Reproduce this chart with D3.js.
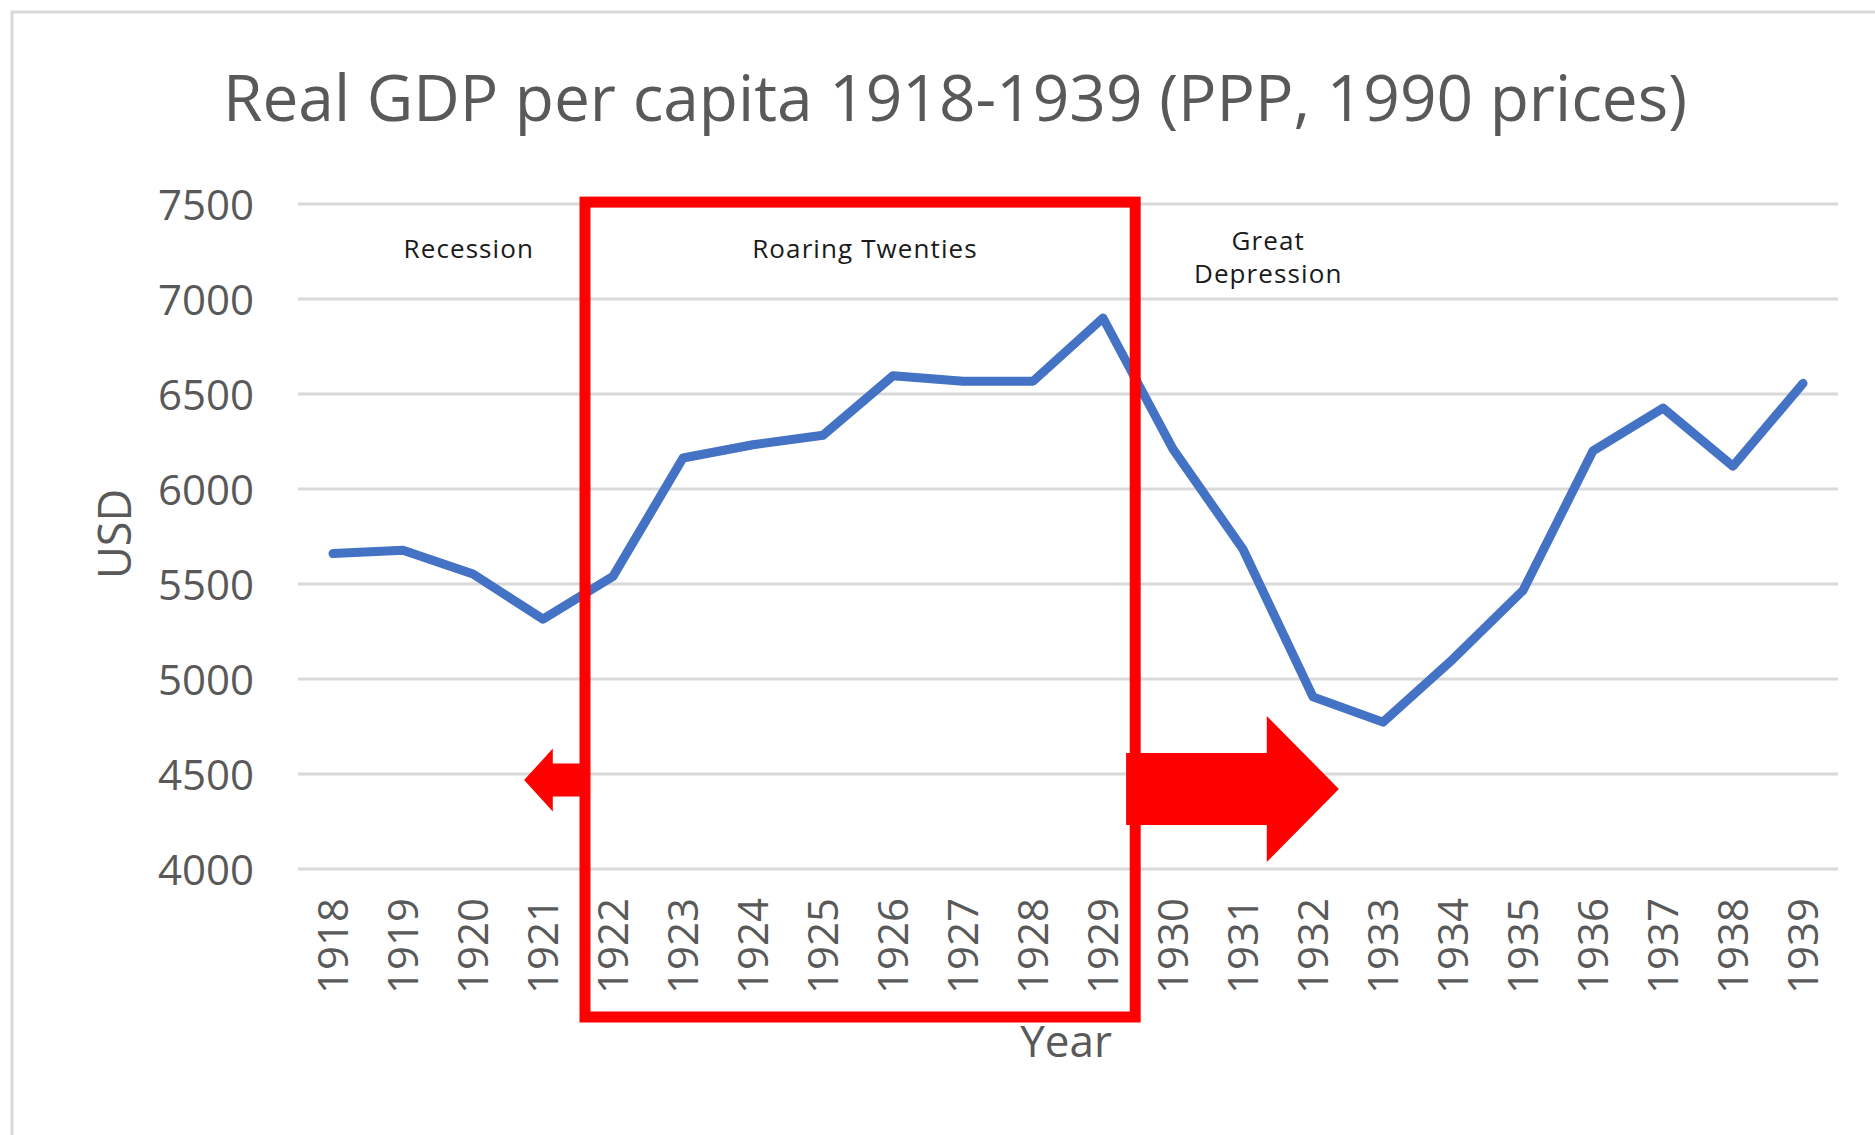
<!DOCTYPE html>
<html>
<head>
<meta charset="utf-8">
<script src="https://cdn.jsdelivr.net/npm/d3@7"></script>
<style>
  html, body { margin: 0; padding: 0; background: #ffffff; }
  svg { display: block; }
  text { font-family: "Open Sans", "Noto Sans", sans-serif; }
</style>
</head>
<body>
<svg id="chart" width="1875" height="1135"></svg>
<script>
// ---- data ----
const years = ["1918","1919","1920","1921","1922","1923","1924","1925","1926","1927","1928",
               "1929","1930","1931","1932","1933","1934","1935","1936","1937","1938","1939"];
const gdpPerCapita = [5660, 5678, 5553, 5315, 5540, 6163, 6233, 6283, 6596, 6567, 6567,
                      6900, 6210, 5683, 4906, 4773, 5105, 5466, 6201, 6426, 6120, 6556];
const yTicks = [4000, 4500, 5000, 5500, 6000, 6500, 7000, 7500];
const titleText = "Real GDP per capita 1918-1939 (PPP, 1990 prices)";
const xTitle = "Year";
const yTitle = "USD";
const periodLabels = [
  { lines: ["Recession"], year: 1919.94 },
  { lines: ["Roaring Twenties"], year: 1925.6 },
  { lines: ["Great", "Depression"], year: 1931.36 }
];

// ---- layout ----
const W = 1875, H = 1135;
const plot = { left: 298, right: 1838, top: 204, bottom: 869 };
const svg = d3.select("#chart");

svg.append("rect").attr("x", 0).attr("y", 0).attr("width", W).attr("height", H).attr("fill", "#fff");
// outer chart frame
svg.append("rect").attr("x", 12).attr("y", 12).attr("width", W).attr("height", H)
  .attr("fill", "none").attr("stroke", "#d9d9d9").attr("stroke-width", 3);

const x = d3.scaleBand().domain(years).range([plot.left, plot.right]).padding(0);
const bw = x.bandwidth();
const xc = d => x(d) + bw / 2;
// continuous helper for annotations placed between categories
const xYear = yr => x(years[0]) + bw / 2 + (yr - +years[0]) * bw;
const y = d3.scaleLinear().domain([4000, 7500]).range([plot.bottom, plot.top]);

// gridlines
svg.append("g").selectAll("line").data(yTicks).join("line")
  .attr("x1", plot.left).attr("x2", plot.right)
  .attr("y1", d => y(d)).attr("y2", d => y(d))
  .attr("stroke", "#d9d9d9").attr("stroke-width", 3);

// y axis via d3.axisLeft (no domain, no ticks)
const yAxis = svg.append("g").attr("transform", `translate(${plot.left - 44},0)`)
  .call(d3.axisLeft(y).tickValues(yTicks).tickSize(0).tickPadding(0).tickFormat(d3.format("d")));
yAxis.select(".domain").remove();
yAxis.selectAll("text").attr("fill", "#595959").style("font-size", "42px")
  .style("font-family", "'Open Sans', sans-serif").attr("dy", "0.36em");

// x axis labels (rotated)
const xAxis = svg.append("g").attr("transform", `translate(0,${plot.bottom})`)
  .call(d3.axisBottom(x).tickSize(0).tickPadding(0));
xAxis.select(".domain").remove();
xAxis.selectAll("text")
  .attr("fill", "#595959").style("font-size", "42px")
  .style("font-family", "'Open Sans', sans-serif")
  .attr("text-anchor", "end")
  .attr("y", 0).attr("dy", "0.36em")
  .attr("transform", "translate(0,29) rotate(-90)");

// data line
svg.append("path")
  .datum(years.map((yr, i) => [yr, gdpPerCapita[i]]))
  .attr("fill", "none").attr("stroke", "#4472C4").attr("stroke-width", 9)
  .attr("stroke-linejoin", "round").attr("stroke-linecap", "round")
  .attr("d", d3.line().x(d => xc(d[0])).y(d => y(d[1])));

// title
svg.append("text").attr("x", 955).attr("y", 121).attr("text-anchor", "middle")
  .attr("fill", "#595959").style("font-size", "64px").text(titleText);

// axis titles
svg.append("text").attr("x", 1066).attr("y", 1057).attr("text-anchor", "middle")
  .attr("fill", "#595959").style("font-size", "44px").text(xTitle);
svg.append("text").attr("transform", "translate(131,534) rotate(-90)").attr("text-anchor", "middle")
  .attr("fill", "#595959").style("font-size", "45px").text(yTitle);

// period labels
const pl = svg.append("g");
periodLabels.forEach(p => {
  const t = pl.append("text").attr("x", xYear(p.year)).attr("text-anchor", "middle")
    .attr("fill", "#1a1a1a").style("font-size", "26px").style("letter-spacing", "1.1px");
  const baseY = p.lines.length === 1 ? 258 : 250;
  p.lines.forEach((ln, i) => {
    t.append("tspan").attr("x", xYear(p.year)).attr("y", baseY + i * 33).text(ln);
  });
});

// red "Roaring Twenties" box
const boxL = xYear(1921.6), boxR = xYear(1929.46);
const boxT = y(7510), boxB = plot.bottom + 148;
svg.append("rect").attr("x", boxL).attr("y", boxT)
  .attr("width", boxR - boxL).attr("height", boxB - boxT)
  .attr("fill", "none").attr("stroke", "#ff0000").attr("stroke-width", 11);

// arrows
function arrowPath(tailX, headBaseX, tipX, cy, shaftHalf, headHalf) {
  return d3.line()([
    [tailX, cy - shaftHalf], [headBaseX, cy - shaftHalf], [headBaseX, cy - headHalf],
    [tipX, cy], [headBaseX, cy + headHalf], [headBaseX, cy + shaftHalf], [tailX, cy + shaftHalf]
  ]) + "Z";
}
// left (small) arrow
svg.append("path").attr("fill", "#ff0000")
  .attr("d", arrowPath(boxL, xYear(1921.14), xYear(1920.73), y(4468), 16.5, 31.5));
// right (big) arrow
svg.append("path").attr("fill", "#ff0000")
  .attr("d", arrowPath(xYear(1929.33), xYear(1931.34), xYear(1932.37), y(4421), 36, 73));
</script>
</body>
</html>
